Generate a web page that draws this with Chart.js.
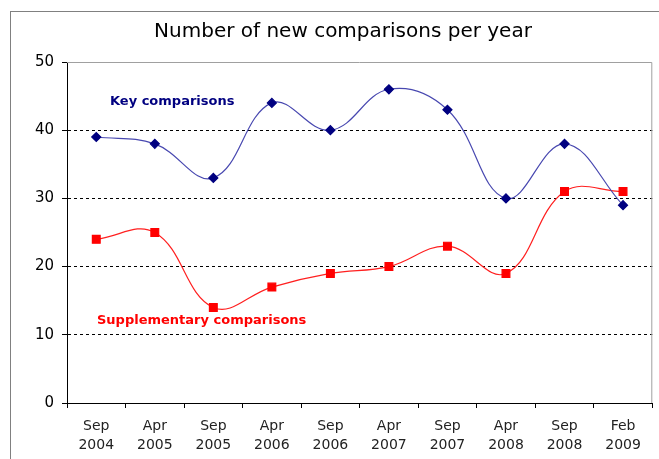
<!DOCTYPE html>
<html>
<head>
<meta charset="utf-8">
<script src="https://cdn.jsdelivr.net/npm/chart.js@4.4.0/dist/chart.umd.min.js"></script>
<style>
  html, body { margin: 0; padding: 0; background: #fff; }
  #wrap { width: 659px; height: 459px; position: relative; }
</style>
</head>
<body>
<div id="wrap"><canvas id="chart" width="659" height="459"></canvas></div>
<script>
const labels = [['Sep', '2004'], ['Apr', '2005'], ['Sep', '2005'], ['Apr', '2006'], ['Sep', '2006'],
                ['Apr', '2007'], ['Sep', '2007'], ['Apr', '2008'], ['Sep', '2008'], ['Feb', '2009']];
const keyComparisons = [39, 38, 33, 44, 40, 46, 43, 30, 38, 29];
const suppComparisons = [24, 25, 14, 17, 19, 20, 23, 19, 31, 31];

const FONT = '"DejaVu Sans", Verdana, sans-serif';

// frame round the whole chart, title, gray border on top/right of the plot, and the two series labels
const decorations = {
  id: 'decorations',
  beforeDraw(chart) {
    const c = chart.ctx;
    c.save();
    c.strokeStyle = '#808080';
    c.lineWidth = 1;
    c.strokeRect(10.5, 11.5, 700, 500);
    c.font = '20px ' + FONT;
    c.fillStyle = '#000';
    c.textAlign = 'center';
    c.textBaseline = 'middle';
    c.fillText('Number of new comparisons per year', 343, 32);
    c.restore();
  },
  beforeDatasetsDraw(chart) {
    const c = chart.ctx, a = chart.chartArea;
    c.save();
    c.strokeStyle = '#a0a0a0';
    c.lineWidth = 1;
    c.beginPath();
    c.moveTo(a.left, a.top + 0.5);
    c.lineTo(a.right - 0.5, a.top + 0.5);
    c.lineTo(a.right - 0.5, a.bottom);
    c.stroke();
    c.restore();
  },
  afterDatasetsDraw(chart) {
    const c = chart.ctx;
    c.save();
    c.font = 'bold 13px ' + FONT;
    c.textBaseline = 'middle';
    c.fillStyle = '#000080';
    c.fillText('Key comparisons', 110, 102);
    c.fillStyle = '#ff0000';
    c.fillText('Supplementary comparisons', 97, 321);
    c.restore();
  }
};

new Chart(document.getElementById('chart'), {
  type: 'line',
  data: {
    labels: labels,
    datasets: [
      {
        label: 'Key comparisons',
        data: keyComparisons,
        borderColor: '#4848b0',
        borderWidth: 1.2,
        pointStyle: 'rectRot',
        pointRadius: 4.5,
        pointBackgroundColor: '#000080',
        pointBorderColor: '#000080',
        tension: 0.4
      },
      {
        label: 'Supplementary comparisons',
        data: suppComparisons,
        borderColor: '#ff2020',
        borderWidth: 1.2,
        pointStyle: 'rect',
        pointRadius: 5.5,
        pointBackgroundColor: '#ff0000',
        pointBorderColor: '#ff0000',
        tension: 0.4
      }
    ]
  },
  options: {
    responsive: false,
    animation: false,
    layout: { padding: { left: 0, right: 1, top: 62, bottom: 0 } },
    scales: {
      x: {
        offset: true,
        afterFit: s => { s.height = 56; },
        grid: { offset: true, drawOnChartArea: false, tickLength: 5, tickColor: '#000' },
        border: { color: '#000' },
        ticks: { color: '#222', font: { family: FONT, size: 14, lineHeight: 1.35 }, padding: 9, maxRotation: 0 }
      },
      y: {
        min: 0,
        max: 50,
        afterFit: s => { s.width = 67; },
        ticks: { stepSize: 10, color: '#000', font: { family: FONT, size: 15 }, padding: 8 },
        grid: {
          color: ctx => (ctx.tick && (ctx.tick.value === 0 || ctx.tick.value === 50)) ? 'rgba(0,0,0,0)' : '#000',
          tickColor: '#000',
          tickLength: 5,
          lineWidth: 1
        },
        border: { color: '#000', dash: [3, 3] }
      }
    },
    plugins: {
      legend: { display: false },
      tooltip: { enabled: false },
      title: { display: false }
    }
  },
  plugins: [decorations]
});
</script>
</body>
</html>
